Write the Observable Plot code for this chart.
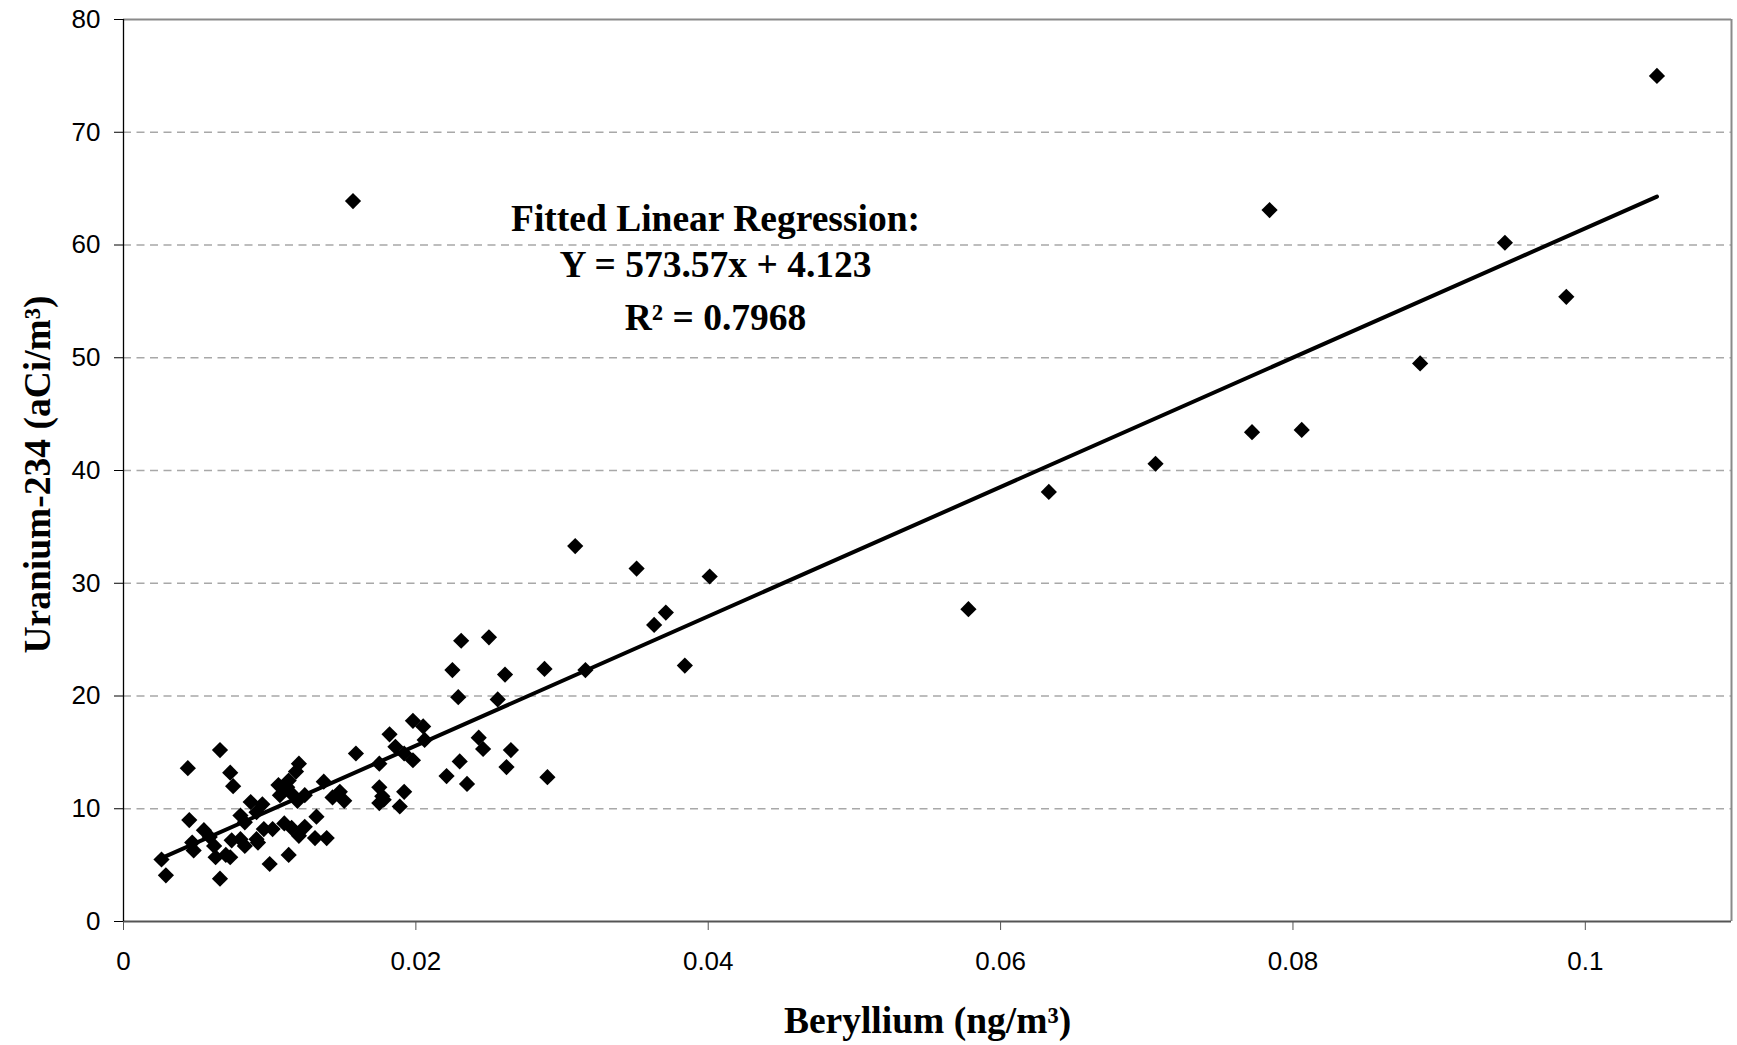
<!DOCTYPE html>
<html>
<head>
<meta charset="utf-8">
<script src="https://cdn.jsdelivr.net/npm/d3@7"></script>
<script src="https://cdn.jsdelivr.net/npm/@observablehq/plot@0.6"></script>
<style>
  html, body { margin: 0; padding: 0; background: #fff; overflow: hidden; }
</style>
</head>
<body>
<div id="chart"></div>
<script>
// ---- Data ----
const beryllium = [
  0.0026, 0.0029, 0.0044, 0.0045, 0.0047, 0.0048, 0.0055, 0.0059, 0.0062, 0.0063,
  0.0066, 0.0066, 0.0070, 0.0073, 0.0073, 0.0074, 0.0075, 0.0080, 0.0080, 0.0083,
  0.0083, 0.0087, 0.0091, 0.0091, 0.0092, 0.0095, 0.0096, 0.0100, 0.0102, 0.0106,
  0.0107, 0.0110, 0.0112, 0.0113, 0.0113, 0.0115, 0.0116, 0.0118, 0.0119, 0.0120,
  0.0120, 0.0124, 0.0124, 0.0131, 0.0132, 0.0137, 0.0139, 0.0143, 0.0148, 0.0151,
  0.0157, 0.0159, 0.0175, 0.0175, 0.0175, 0.0177, 0.0178, 0.0182, 0.0186, 0.0189,
  0.0192, 0.0192, 0.0198, 0.0198, 0.0205, 0.0206, 0.0221, 0.0225, 0.0229, 0.0230,
  0.0231, 0.0235, 0.0243, 0.0246, 0.0250, 0.0256, 0.0261, 0.0262, 0.0265, 0.0288,
  0.0290, 0.0309, 0.0316, 0.0351, 0.0363, 0.0371, 0.0384, 0.0401, 0.0578, 0.0633,
  0.0706, 0.0772, 0.0784, 0.0806, 0.0887, 0.0945, 0.0987, 0.1049
];
const uranium = [
  5.5, 4.1, 13.6, 9.0, 7.0, 6.3, 8.1, 7.5, 6.7, 5.7,
  15.2, 3.8, 5.9, 13.2, 5.7, 7.2, 12.0, 9.4, 7.3, 8.8,
  6.7, 10.6, 7.3, 9.7, 7.0, 10.4, 8.2, 5.1, 8.2, 12.1,
  11.2, 8.7, 11.9, 12.5, 5.9, 8.3, 11.2, 13.3, 10.7, 14.0,
  7.6, 11.2, 8.4, 7.4, 9.3, 12.4, 7.4, 11.0, 11.5, 10.7,
  63.9, 14.9, 14.0, 11.9, 10.5, 11.1, 10.8, 16.6, 15.5, 10.2,
  14.9, 11.5, 17.8, 14.3, 17.3, 16.1, 12.9, 22.3, 19.9, 14.2,
  24.9, 12.2, 16.3, 15.3, 25.2, 19.7, 21.9, 13.7, 15.2, 22.4,
  12.8, 33.3, 22.3, 31.3, 26.3, 27.4, 22.7, 30.6, 27.7, 38.1,
  40.6, 43.4, 63.1, 43.6, 49.5, 60.2, 55.4, 75.0
];
const xTicks = [0, 0.02, 0.04, 0.06, 0.08, 0.1];
const yTicks = [0, 10, 20, 30, 40, 50, 60, 70, 80];
const gridValues = [10, 20, 30, 40, 50, 60, 70];
const xLabel = "Beryllium (ng/m³)";
const yLabel = "Uranium-234 (aCi/m³)";
const annotationLines = ["Fitted Linear Regression:", "Y = 573.57x + 4.123", "R² = 0.7968"];
const slope = 573.57;
const intercept = 4.123;

// ---- Derived tables ----
const points = beryllium.map((x, i) => ({x, y: uranium[i]}));
const fit = d3.extent(beryllium).map(x => ({x, y: slope * x + intercept}));

const serif = "'Liberation Serif', 'Times New Roman', Times, serif";
const annotationOffsets = [185, 231, 284];

const chart = Plot.plot({
  width: 1737,
  height: 1045,
  marginLeft: 123,
  marginRight: 6,
  marginTop: 19,
  marginBottom: 124,
  style: {
    background: "#fff",
    color: "#000",
    fontFamily: "'Liberation Sans', Arial, sans-serif",
    fontSize: "26px"
  },
  x: {domain: [0, 0.11]},
  y: {domain: [0, 80]},
  marks: [
    Plot.ruleY(gridValues, {stroke: "#a8a8a8", strokeWidth: 1.3, strokeDasharray: "8,5.5"}),
    Plot.ruleY([80], {stroke: "#8a8a8a", strokeWidth: 2}),
    Plot.ruleX([0.11], {stroke: "#8a8a8a", strokeWidth: 2}),
    Plot.axisX({ticks: xTicks, tickFormat: d3.format("~g"), tickSize: 9, tickPadding: 21,
                label: null, stroke: "#555", fill: "#000", fontSize: 26}),
    Plot.axisY({ticks: yTicks, tickSize: 9, tickPadding: 14,
                label: null, stroke: "#000", fill: "#000", fontSize: 26}),
    Plot.ruleY([0], {stroke: "#555", strokeWidth: 2}),
    Plot.ruleX([0], {stroke: "#000", strokeWidth: 1.3}),
    Plot.dot(points, {x: "x", y: "y", symbol: "diamond2", r: 7.3, fill: "#000", stroke: "none"}),
    Plot.line(fit, {x: "x", y: "y", stroke: "#000", strokeWidth: 4}),
    ...annotationLines.map((line, i) => Plot.text([line], {
      text: d => d, frameAnchor: "top", textAnchor: "middle", dx: -212, dy: annotationOffsets[i],
      lineAnchor: "top", fontFamily: serif, fontWeight: "bold", fontSize: 37.5, fill: "#000"
    })),
    Plot.text([xLabel], {
      text: d => d, frameAnchor: "bottom", textAnchor: "middle", dy: 99, lineAnchor: "middle",
      fontFamily: serif, fontWeight: "bold", fontSize: 37.5, fill: "#000"
    }),
    Plot.text([yLabel], {
      text: d => d, frameAnchor: "left", textAnchor: "middle", dx: -86, dy: 4, rotate: -90, lineAnchor: "middle",
      fontFamily: serif, fontWeight: "bold", fontSize: 37.5, fill: "#000"
    })
  ]
});
document.getElementById("chart").appendChild(chart);
</script>
</body>
</html>
